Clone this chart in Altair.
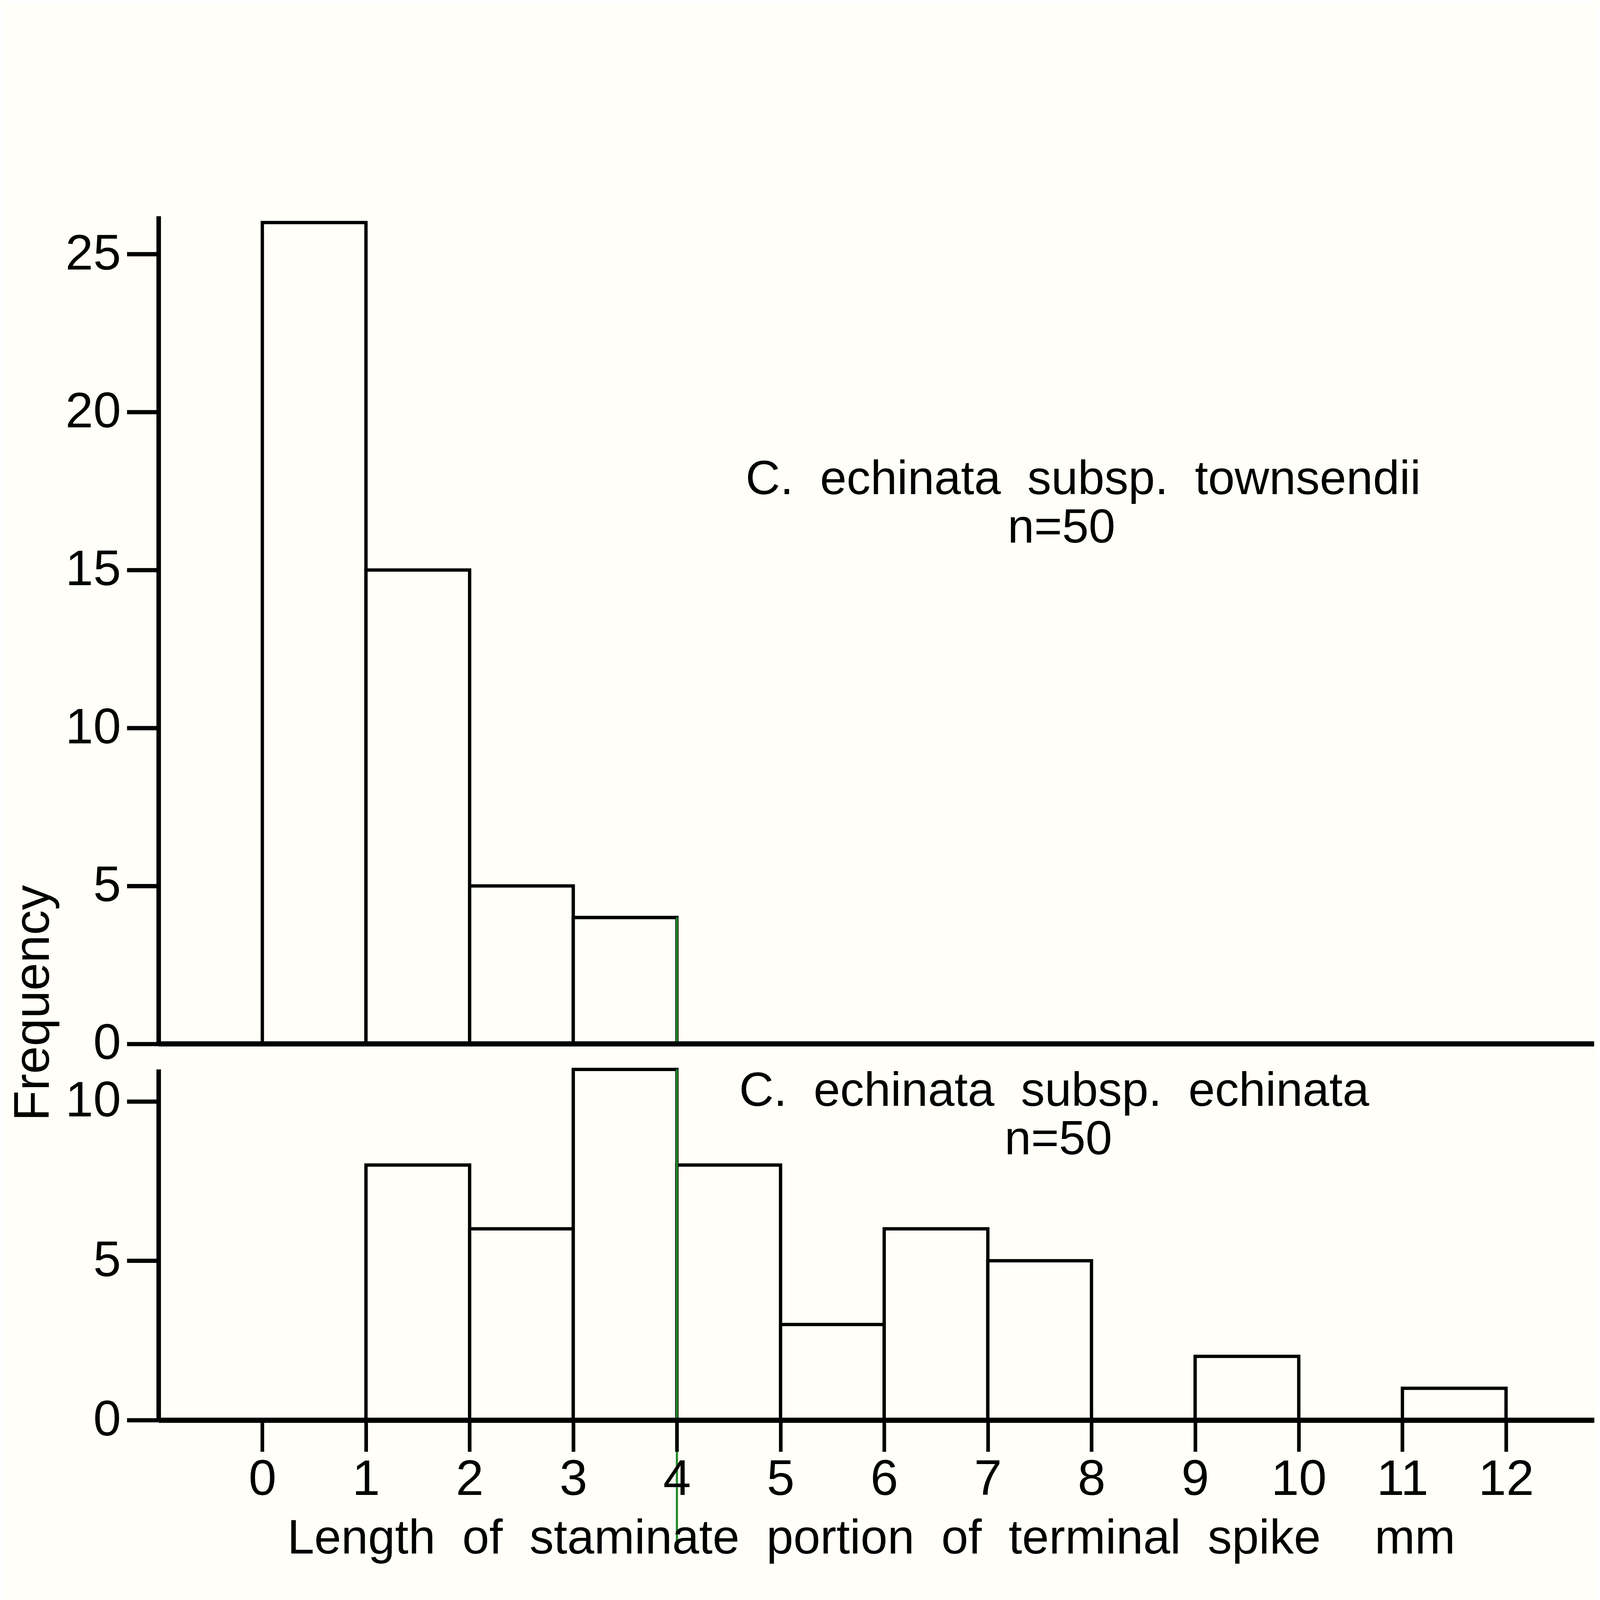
import altair as alt
import pandas as pd

# ---- data ----
top_start = [0, 1, 2, 3]
top_end = [1, 2, 3, 4]
top_freq = [26, 15, 5, 4]

bot_start = [1, 2, 3, 4, 5, 6, 7, 9, 11]
bot_end = [2, 3, 4, 5, 6, 7, 8, 10, 12]
bot_freq = [8, 6, 11, 8, 3, 6, 5, 2, 1]

x_ticks = [0, 1, 2, 3, 4, 5, 6, 7, 8, 9, 10, 11, 12]
y_ticks_top = [0, 5, 10, 15, 20, 25]
y_ticks_bot = [0, 5, 10]

NB = "\u00a0"
top_labels = ["C." + NB * 2 + "echinata" + NB * 2 + "subsp." + NB * 2 + "townsendii", "n=50"]
top_label_x = [7.92, 7.71]
top_label_y = [17.4, 15.87]
bot_labels = ["C." + NB * 2 + "echinata" + NB * 2 + "subsp." + NB * 2 + "echinata", "n=50"]
bot_label_x = [7.64, 7.68]
bot_label_y = [9.86, 8.34]

x_title = NB.join(["Length", "", "of", "", "staminate", "", "portion", "", "of", "", "terminal", "", "spike", "", "", "", "mm"])
y_title = "Frequency"

# axis extents of each panel (data units)
x_min, x_max = -1, 12.85
top_y_max = 26.2
bot_y_max = 11

# green scan line at x = 4
green_top = {"x": [4], "y1": [0], "y2": [4]}
green_bot = {"x": [4], "y1": [11], "y2": [-3.85]}

# ---- styling / layout ----
BG = "#fffef8"
FONT = "Liberation Sans"
GREEN = "#1f8a2a"
TOTAL_W = 5266
TOTAL_H = 4500
PAD = {"left": 19, "top": 42, "right": 0, "bottom": 0}

xscale = alt.Scale(domain=[x_min, x_max], nice=False, zero=False)
top_scale = alt.Scale(domain=[-11.91, top_y_max], nice=False, zero=False)
bot_scale = alt.Scale(domain=[0, 37.76], nice=False, zero=False)

df_top = pd.DataFrame({"start": top_start, "end": top_end, "freq": top_freq})
df_bot = pd.DataFrame({"start": bot_start, "end": bot_end, "freq": bot_freq})
lab_top = pd.DataFrame({"x": top_label_x, "y": top_label_y, "t": top_labels})
lab_bot = pd.DataFrame({"x": bot_label_x, "y": bot_label_y, "t": bot_labels})

y_axis_common = dict(
    orient="left", domain=False, format="d",
    tickSize=105, tickWidth=14, tickColor="black",
    labelFont=FONT, labelFontSize=165, labelColor="black", labelPadding=20,
    labelLimit=0, labelFlush=False, labelOverlap=False, grid=False, zindex=1,
    title=None,
)
top_y_axis = alt.Axis(values=y_ticks_top, **y_axis_common)
bot_y_axis = alt.Axis(values=y_ticks_bot, **y_axis_common)

x_axis = alt.Axis(values=x_ticks, domainWidth=17, domainColor="black",
                  tickSize=104, tickWidth=12, tickColor="black",
                  labelFont=FONT, labelFontSize=165, labelColor="black", labelPadding=12,
                  labelLimit=0, labelFlush=False, labelOverlap=False, grid=False,
                  title=x_title, titleFont=FONT, titleFontSize=160, titleFontWeight="normal",
                  titleColor="black", titleAlign="center", titleBaseline="alphabetic",
                  titleLimit=0, titleX=2354, titleY=440, zindex=1)


def X(field):
    return alt.X(field, scale=xscale, axis=x_axis)


# ---------- top panel ----------
top_bars = alt.Chart(df_top).mark_bar(fill=BG, stroke="black", strokeWidth=11).encode(
    x=X("start:Q"), x2="end:Q",
    y=alt.Y("freq:Q", scale=top_scale, axis=top_y_axis),
    y2=alt.datum(0),
)
top_text = alt.Chart(lab_top).mark_text(font=FONT, fontSize=158, color="black",
                                        align="center", baseline="alphabetic").encode(
    x=X("x:Q"), y=alt.Y("y:Q"), text="t:N")
top_green = alt.Chart(pd.DataFrame(green_top)).mark_rule(color=GREEN, strokeWidth=7).encode(
    x=X("x:Q"), y="y1:Q", y2="y2:Q")
top_yline = alt.Chart(pd.DataFrame({"x": [x_min], "y1": [0], "y2": [top_y_max]})).mark_rule(
    color="black", strokeWidth=15).encode(x=X("x:Q"), y="y1:Q", y2="y2:Q")
top_xline = alt.Chart(pd.DataFrame({"x1": [x_min], "x2": [x_max], "y": [0]})).mark_rule(
    color="black", strokeWidth=17).encode(x=X("x1:Q"), x2="x2:Q", y="y:Q")
y_title_mark = alt.Chart(pd.DataFrame({"t": [y_title]})).mark_text(
    font=FONT, fontSize=165, color="black", angle=270, align="center", baseline="alphabetic"
).encode(x=alt.value(-363), y=alt.value(2600), text="t:N")

top = alt.layer(top_bars, top_text, top_green, top_yline, top_xline, y_title_mark)

# ---------- bottom panel ----------
bot_bars = alt.Chart(df_bot).mark_bar(fill=BG, stroke="black", strokeWidth=11).encode(
    x=X("start:Q"), x2="end:Q",
    y=alt.Y("freq:Q", scale=bot_scale, axis=bot_y_axis),
    y2=alt.datum(0),
)
bot_text = alt.Chart(lab_bot).mark_text(font=FONT, fontSize=158, color="black",
                                        align="center", baseline="alphabetic").encode(
    x=X("x:Q"), y=alt.Y("y:Q"), text="t:N")
bot_green = alt.Chart(pd.DataFrame(green_bot)).mark_rule(color=GREEN, strokeWidth=7).encode(
    x=X("x:Q"), y="y1:Q", y2="y2:Q")
bot_yline = alt.Chart(pd.DataFrame({"x": [x_min], "y1": [0], "y2": [bot_y_max]})).mark_rule(
    color="black", strokeWidth=15).encode(x=X("x:Q"), y="y1:Q", y2="y2:Q")

bot = alt.layer(bot_bars, bot_text, bot_green, bot_yline)

chart = alt.layer(top, bot).resolve_scale(y="independent").properties(
    width=TOTAL_W, height=TOTAL_H,
    background=BG,
    padding=PAD,
    autosize=alt.AutoSizeParams(type="fit", contains="padding"),
).configure_view(stroke=None)

chart.save("out.html", embed_options={"renderer": "svg", "actions": False})
